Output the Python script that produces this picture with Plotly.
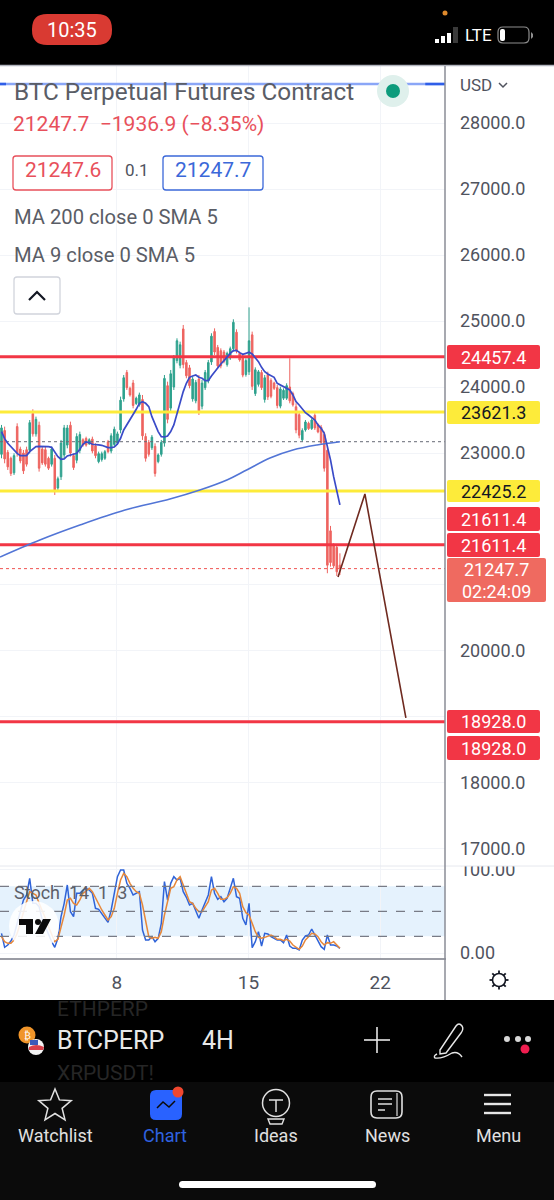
import math
import plotly.graph_objects as go

W, H = 554, 1200
FONT = "Roboto"
UP, DOWN = "#2fa28e", "#ee6460"

# ---------- data ----------
opens = [22980,23340,23010,22920,22700,23400,23060,23000,23050,23040,23600,23290,23420,23060,23050,22920,22830,22920,22470,22640,
         22970,23120,23420,22960,22890,23040,23200,23220,23140,23210,23110,22870,22900,22920,23170,23030,23130,23150,23350,23820,
         24220,23980,24060,23750,23730,23810,23250,23160,23080,23100,22870,22980,23150,24020,23680,24000,24400,24330,24880,24370,
         24290,23820,23790,24120,23710,23990,24090,24380,24840,24600,24550,24530,24340,24440,24580,24830,24510,24450,24190,24230,
         24790,23900,24040,24220,23810,24190,24100,24060,23990,23710,23830,23830,24000,23900,23700,23580,23200,23350,23450,23370,
         23570,23430,23390,23280,23040,21820,21590,21570,21300]
highs = [23425,23400,23046,22945,22995,23450,23096,23046,23096,23500,23662,23551,23475,23096,23096,22945,23096,22970,22642,23198,
         23425,23425,23475,22995,23299,23324,23223,23248,23223,23248,23147,23021,23021,23046,23198,23299,23400,23324,23854,24182,
         24258,24006,24107,23854,23915,23879,23299,23198,23273,23147,22995,23198,24182,24081,24258,24485,24738,24687,24940,24410,
         24334,24157,24107,24182,24107,24258,24410,24814,24889,24637,24586,24561,24536,24612,25026,24874,24536,24485,24435,25207,
         24839,24298,24258,24258,24182,24233,24132,24081,24031,24006,23980,24056,24435,23930,23753,23627,23374,23500,23475,23526,
         23601,23450,23425,23324,23096,21895,21632,21622,21480]
lows = [22920,22844,22743,22652,22667,22945,22844,22682,22794,22995,23248,23248,22718,22819,22794,22743,22794,22364,22440,22591,
        22920,23071,22945,22743,22844,22995,23096,23096,23122,22995,22920,22844,22869,22895,22995,22995,23096,23122,23299,23778,
        23955,23854,23677,23728,23703,23198,22869,22945,23046,22642,22844,22945,23096,23450,23627,23955,24359,24283,24283,24132,
        23980,23778,23753,23576,23662,23955,24056,24334,24485,24283,24283,24359,24309,24410,24536,24510,24384,24147,24157,24182,
        23955,23864,24006,23955,23763,23804,23829,23955,23677,23677,23804,23804,23753,23703,23299,23223,23172,23324,23349,23349,
        23349,23299,23122,22718,21178,21279,21253,21137,21152]
closes = [23380,22910,22790,22690,22960,23000,22880,22730,22830,23460,23290,23510,22770,22850,22830,22770,23060,22420,22610,23150,
          23380,23380,23000,22780,23250,23280,23120,23120,23200,23030,22960,22990,22990,23020,23020,23260,23360,23290,23800,24140,
          23990,23880,23720,23830,23880,23260,22920,22980,23240,22690,22970,23160,24130,23510,24200,24440,24700,24640,24340,24170,
          24020,24120,24070,23630,24060,24220,24370,24770,24530,24320,24320,24390,24510,24580,24980,24550,24410,24180,24400,24700,
          24010,24260,24230,23990,24140,23850,23860,23980,23720,23970,23950,24020,23790,23730,23350,23270,23340,23470,23370,23500,
          23380,23320,23160,22770,21300,21340,21290,21200,21247.7]
ma9 = [23324,23218,23147,23096,23041,22995,22960,22960,22960,23021,23061,23096,23101,23101,23096,23096,23086,23006,22945,22905,
       22910,22955,22965,22980,22995,23056,23132,23167,23157,23132,23122,23122,23117,23096,23081,23081,23091,23137,23223,23349,
       23425,23500,23576,23662,23753,23778,23753,23703,23551,23435,23324,23248,23243,23258,23324,23425,23601,23753,23930,24056,
       24147,24167,24182,24147,24132,24096,24096,24167,24233,24283,24349,24399,24460,24510,24551,24556,24521,24495,24510,24526,
       24500,24450,24384,24298,24233,24197,24167,24147,24056,24031,24006,23980,23955,23879,23778,23728,23662,23611,23576,23541,
       23500,23425,23374,23299,23096,22895,22642,22440,22213]
stoch_k = [23.6,6.8,9.6,14.4,21.6,35.6,51.6,63.6,69.6,89.6,59.6,59.6,55.6,39.6,31.6,21.6,13.6,6.8,17.6,43.6,
           59.6,81.6,49.6,43.6,71.6,71.6,75.6,77.6,75.6,71.6,53.6,52.4,47.6,41.6,36.8,51.6,71.6,91.6,99.6,99.6,
           83.6,77.6,69.6,71.6,73.6,27.6,15.6,15.6,19.6,13.6,17.6,35.6,85.6,63.6,83.6,91.6,87.6,89.6,73.6,66.8,
           57.6,59.6,49.6,41.6,51.6,59.6,69.6,91.6,71.6,64.4,67.6,61.6,65.6,77.6,89.6,67.6,65.6,41.6,33.6,59.6,
           6.4,13.6,25.6,8.4,23.6,22.8,19.6,17.6,15.6,15.6,12.4,21.6,8.4,5.6,5.6,3.6,15.6,20.4,21.6,28.8,
           21.6,15.6,7.6,4.4,21.6,9.6,9.6,8.4,5.6]
stoch_d = [19.6,13.6,11.6,11.6,15.6,23.6,35.6,49.6,61.6,73.6,71.6,69.6,59.6,51.6,41.6,31.6,21.6,13.6,16.4,29.6,
           45.6,63.6,65.6,59.6,57.6,63.6,71.6,74.4,77.6,73.6,65.6,59.6,51.6,45.6,39.6,43.6,53.6,71.6,87.6,95.6,
           91.6,83.6,77.6,73.6,71.6,57.6,37.6,19.6,17.6,18.8,17.6,25.6,45.6,63.6,77.6,79.6,87.6,91.6,81.6,69.6,
           61.6,59.6,53.6,49.6,49.6,55.6,61.6,75.6,77.6,71.6,64.4,64.4,66.4,71.6,79.6,77.6,71.6,55.6,48.4,45.6,
           35.6,25.6,18.8,17.6,18.8,20.4,21.6,19.6,16.4,16.4,14.8,16.4,14.4,9.6,6.8,4.4,8.4,15.6,19.6,23.6,
           22.8,19.6,13.6,9.6,12.4,11.6,13.6,9.6,5.6]
ma200_days = [1.78,3.90,6.03,8.43,10.82,12.41,13.85,14.90,16.14,17.36,18.64,19.86]
ma200 = [21424,21682,21909,22136,22303,22439,22591,22742,22924,23045,23121,23171]
path_days = [19.76,21.19,23.37]
path_prices = [21121,22379,18985]
red_levels = [24457.4,21611.4,18928.0]
yellow_levels = [23621.3,22425.2]
last_price = 21247.7
ma200_last = 23171
top_drawing_level = 28591
price_ticks = [28000,27000,26000,25000,24000,23000,20000,18000,17000]
price_tick_text = ["28000.0","27000.0","26000.0","25000.0","24000.0","23000.0","20000.0","18000.0","17000.0"]
date_ticks = [8,15,22]
date_tick_text = ["8","15","22"]
stoch_ticks = [100,0]
stoch_tick_text = ["100.00","0.00"]
stoch_levels = [80,50,20]

candle_days = [19.86-(len(opens)-1-i)/6 for i in range(len(opens))]
x_range = [1.78,25.45]

fig = go.Figure()

# horizontal levels
for lv in red_levels:
    fig.add_trace(go.Scatter(x=x_range,y=[lv,lv],mode="lines",line=dict(color="#f23645",width=3),xaxis="x",yaxis="y"))
for lv in yellow_levels:
    fig.add_trace(go.Scatter(x=x_range,y=[lv,lv],mode="lines",line=dict(color="#fdeb3a",width=3),xaxis="x",yaxis="y"))
fig.add_trace(go.Scatter(x=x_range,y=[top_drawing_level]*2,mode="lines",line=dict(color="#8aa6f7",width=2.5),xaxis="x",yaxis="y"))
fig.add_trace(go.Scatter(x=[1.78,2.1],y=[top_drawing_level]*2,mode="lines",line=dict(color="#2f5ee8",width=2.5),xaxis="x",yaxis="y"))
fig.add_trace(go.Scatter(x=[24.4,25.45],y=[top_drawing_level]*2,mode="lines",line=dict(color="#2f5ee8",width=2.5),xaxis="x",yaxis="y"))
fig.add_trace(go.Scatter(x=x_range,y=[ma200_last]*2,mode="lines",line=dict(color="#666a75",width=1,dash="dot"),xaxis="x",yaxis="y"))
fig.add_trace(go.Scatter(x=x_range,y=[last_price]*2,mode="lines",line=dict(color="#ef5350",width=1,dash="dot"),xaxis="x",yaxis="y"))

fig.add_trace(go.Candlestick(x=candle_days,open=opens,high=highs,low=lows,close=closes,whiskerwidth=0,
    increasing=dict(line=dict(color=UP,width=1),fillcolor=UP),
    decreasing=dict(line=dict(color=DOWN,width=1),fillcolor=DOWN),xaxis="x",yaxis="y"))
fig.add_trace(go.Scatter(x=ma200_days,y=ma200,mode="lines",line=dict(color="#5275d6",width=1.6,shape="spline"),xaxis="x",yaxis="y"))
fig.add_trace(go.Scatter(x=candle_days,y=ma9,mode="lines",line=dict(color="#3a4bc8",width=1.7),xaxis="x",yaxis="y"))
fig.add_trace(go.Scatter(x=path_days,y=path_prices,mode="lines",line=dict(color="#6f2a20",width=1.6),xaxis="x",yaxis="y"))

# stochastic pane
fig.add_trace(go.Scatter(x=candle_days,y=stoch_k,mode="lines",line=dict(color="#2f63d8",width=1.5),xaxis="x2",yaxis="y2"))
fig.add_trace(go.Scatter(x=candle_days,y=stoch_d,mode="lines",line=dict(color="#e6873a",width=1.5),xaxis="x2",yaxis="y2"))
# invisible trace that makes the overlay pixel grid exist
fig.add_trace(go.Scatter(x=[0,W],y=[0,H],mode="lines",line=dict(color="rgba(0,0,0,0)"),xaxis="x3",yaxis="y3"))

shapes, notes = [], []
def rect(x0,y0,x1,y1,fill=None,line=None,lw=1,layer="above",op=1):
    shapes.append(dict(type="rect",xref="x3",yref="y3",x0=x0,y0=y0,x1=x1,y1=y1,fillcolor=fill or "rgba(0,0,0,0)",
                       line=dict(color=line or "rgba(0,0,0,0)",width=lw if line else 0),layer=layer,opacity=op))
def rrect(x0,y0,x1,y1,r,fill=None,line=None,lw=1,op=1):
    d=(f"M{x0+r},{y0} L{x1-r},{y0} Q{x1},{y0} {x1},{y0+r} L{x1},{y1-r} Q{x1},{y1} {x1-r},{y1} "
       f"L{x0+r},{y1} Q{x0},{y1} {x0},{y1-r} L{x0},{y0+r} Q{x0},{y0} {x0+r},{y0} Z")
    path(d,fill,line,lw,op)
def path(d,fill=None,line=None,lw=1,op=1):
    shapes.append(dict(type="path",xref="x3",yref="y3",path=d,fillcolor=fill or "rgba(0,0,0,0)",
                       line=dict(color=line or "rgba(0,0,0,0)",width=lw if line else 0),layer="above",opacity=op))
def circle(cx,cy,r,fill=None,line=None,lw=1,op=1):
    shapes.append(dict(type="circle",xref="x3",yref="y3",x0=cx-r,x1=cx+r,y0=cy-r,y1=cy+r,fillcolor=fill or "rgba(0,0,0,0)",
                       line=dict(color=line or "rgba(0,0,0,0)",width=lw if line else 0),layer="above",opacity=op))
def seg(x0,y0,x1,y1,color,lw=1):
    shapes.append(dict(type="line",xref="x3",yref="y3",x0=x0,y0=y0,x1=x1,y1=y1,line=dict(color=color,width=lw),layer="above"))
def text(x,y,t,size=16,color="#50535e",anchor="left",fam=FONT):
    notes.append(dict(xref="x3",yref="y3",x=x,y=y,text=t,showarrow=False,xanchor=anchor,yanchor="middle",
                      font=dict(family=fam,size=size,color=color),borderpad=0,borderwidth=0))

# stochastic band and dashed levels live on the stochastic axes
band = dict(type="rect",xref="x2",yref="y2",x0=x_range[0],x1=x_range[1],y0=20,y1=80,fillcolor="#e5f2fd",line=dict(width=0),layer="below")
stoch_lines = [dict(type="line",xref="x2",yref="y2",x0=x_range[0],x1=x_range[1],y0=v,y1=v,
                    line=dict(color="#787b86",width=1.4,dash="dash"),layer="above") for v in stoch_levels]

# chrome: top bar, bottom bar
rect(0,0,W,65,"#000000")
rect(0,1000,W,H,"#000000")
rect(0,1082,W,H,"#0b0b0b")
seg(0,65.5,W,65.5,"#b2b5be",1.5)
rect(446,858,W,866,"#ffffff")
seg(0,866,W,866,"#e6e8ee",1)
seg(0,959,446,959,"#787b86",1.5)
seg(445,66,445,1000,"#8a8d96",1.5)

# status bar
rrect(32,14,112,45,15,"#d93a32")
text(72,29.5,"10:35",20,"#ffffff","center")
circle(445,13,2.5,"#e08a2c")
for bx,by in zip([435,441,447],[39,36,33]):
    rect(bx,by,bx+4,43,"#ffffff")
rect(453,27,458,43,"#3a3a3a")
text(465,35,"LTE",17,"#ffffff")
rrect(498,27,529,43,5,None,"#8e8e8e",1.2)
rrect(500,29,505,41,2,"#ffffff")
path("M531,32 L533,34 L533,37 L531,39 Z","#8e8e8e")

# legend block
circle(393,91,16,"#dff0ec")
circle(393,91,7,"#0d9b7c")
text(14,91,"BTC Perpetual Futures Contract",24.3,"#5a5d66")
text(13,124,"21247.7  −1936.9 (−8.35%)",21,"#e8505b")
rrect(13,156,112,190,3,"#ffffff","#e8505b",1.3)
text(62.5,170,"21247.6",21,"#e8505b","center")
text(137,170,"0.1",17,"#50535e","center")
rrect(163,156,263,190,3,"#ffffff","#3b68d9",1.3)
text(213,170,"21247.7",21,"#3b68d9","center")
text(14,217,"MA 200 close 0 SMA 5",20.2,"#5a5d66")
text(14,255,"MA 9 close 0 SMA 5",20.2,"#5a5d66")
rrect(14,277,60,314,3,"#ffffff","#d1d4dc",1.3)
path("M29,300 L37,292 L45,300",None,"#131722",2.2)

# right column
text(460,85,"USD",17,"#50535e")
path("M499,83 L503,87 L507,83",None,"#50535e",1.5)
def tag(y0,y1,label,fill,color,x1=540,size=18):
    rrect(447,y0,x1,y1,2,fill)
    text((447+x1)/2,(y0+y1)/2,label,size,color,"center")
tag(345,369,"24457.4","#f23645","#ffffff")
tag(401,424,"23621.3","#fdeb3a","#131722")
tag(480,502,"22425.2","#fdeb3a","#131722")
tag(507,531,"21611.4","#f23645","#ffffff")
tag(533,557,"21611.4","#f23645","#ffffff")
rrect(447,558,546,602,2,"#ef6a60")
text(496,569,"21247.7",18,"#ffffff","center")
text(496,591,"02:24:09",18,"#ffffff","center")
tag(710,733,"18928.0","#f23645","#ffffff")
tag(736,760,"18928.0","#f23645","#ffffff")

# stochastic legend and logo
text(14,892,"Stoch  14  1  3",18,"#5c5f69")
circle(34,926,25,"#ffffff",None,1,0.88)
path("M19,919 L33,919 L33,934 L26,934 L26,925 L19,925 Z","#0b0b0b")
circle(38,922,3,"#0b0b0b")
path("M35,934 L43,919 L51,919 L43,934 Z","#0b0b0b")

# gear
circle(499,980,6.5,None,"#131722",1.6)
for k in range(8):
    a=k*math.pi/4
    seg(499+6.5*math.cos(a),980+6.5*math.sin(a),499+9.5*math.cos(a),980+9.5*math.sin(a),"#131722",1.8)

# bottom toolbar
text(57,1009,"ETHPERP",21,"#262626")
text(57,1073,"XRPUSDT!",21,"#262626")
circle(27,1035,8.5,"#f0952a")
text(27,1035,"₿",10,"#ffffff","center","DejaVu Sans")
circle(36,1047,8,"#f4f4f4")
path("M29,1047 Q36,1043 44,1047 L43,1050 L29,1050 Z","#d8404a")
path("M30,1040 L38,1040 L38,1045 L30,1045 Z","#3b5ab8")
text(57,1040,"BTCPERP",25,"#e8e8e8")
text(202,1040,"4H",25,"#e8e8e8")
seg(364,1040,390,1040,"#e8e8e8",1.6)
seg(377,1027,377,1053,"#e8e8e8",1.6)
path("M440,1050 L456,1026 Q459,1022 462,1026 Q464,1029 461,1033 L446,1053 L440,1054 Z",None,"#e8e8e8",1.4)
path("M437,1054 Q433,1056 435,1058 Q442,1059 452,1053 Q458,1051 462,1057",None,"#e8e8e8",1.4)
for dx in [507,518,528]:
    circle(dx,1039,3,"#d8d8d8")
circle(525,1049,4.5,"#f01d4f")

# tab bar
labels = [(55,"Watchlist","#e0e0e0"),(165,"Chart","#2f62e0"),(276,"Ideas","#e0e0e0"),(387,"News","#e0e0e0"),(498,"Menu","#e0e0e0")]
for lx,lt,lc in labels:
    text(lx,1135,lt,18,lc,"center")
pts=[]
for k in range(10):
    r=17 if k%2==0 else 7.5
    a=-math.pi/2+k*math.pi/5
    pts.append(f"{55+r*math.cos(a):.1f},{1106+r*math.sin(a):.1f}")
path("M"+" L".join(pts)+" Z",None,"#e0e0e0",1.5)
rrect(150,1090,182,1120,6,"#2962ff")
path("M157,1108 L163,1102 L169,1107 L175,1101",None,"#0b0b0b",1.5)
circle(178,1092,5.5,"#f0472f")
circle(276,1103,13.5,None,"#e0e0e0",1.5)
path("M269,1100 L283,1100 M276,1100 L276,1112",None,"#e0e0e0",1.5)
path("M268,1119 L284,1119 L282,1124 L270,1124 Z",None,"#e0e0e0",1.4)
rrect(371,1091,402,1118,6,None,"#e0e0e0",1.6)
for ly,lx2 in zip([1099,1104,1110],[392,392,385]):
    seg(378,ly,lx2,ly,"#e0e0e0",1.5)
seg(397,1093,397,1116,"#e0e0e0",1.2)
for ly in [1095,1104,1113]:
    seg(484,ly,511,ly,"#e6e6e6",2.4)
rrect(179,1181,376,1188,3.5,"#ffffff")

axis_font = dict(family=FONT,size=18,color="#50535e")
fig.update_layout(
    width=W,height=H,autosize=False,margin=dict(l=0,r=0,t=0,b=0,autoexpand=False),
    paper_bgcolor="#ffffff",plot_bgcolor="rgba(0,0,0,0)",showlegend=False,
    font=dict(family=FONT),
    xaxis=dict(domain=[0,445/W],range=x_range,anchor="y",tickvals=date_ticks,showticklabels=False,ticks="",
               showgrid=True,gridcolor="#f2f4f8",gridwidth=1,zeroline=False,rangeslider=dict(visible=False)),
    yaxis=dict(domain=[1-866/H,1-66/H],range=[16742,28864],anchor="x",side="right",tickvals=price_ticks,ticktext=price_tick_text,
               tickfont=axis_font,ticks="",ticklabelstandoff=14,showgrid=True,gridcolor="#f2f4f8",zeroline=False,
               minor=dict(tickvals=[22000,21000,19000],showgrid=True,gridcolor="#f2f4f8",ticks="")),
    xaxis2=dict(domain=[0,445/W],range=x_range,anchor="y2",tickvals=date_ticks,ticktext=date_tick_text,
                tickfont=dict(family=FONT,size=19,color="#50535e"),ticks="",ticklabelstandoff=10,
                showgrid=True,gridcolor="#f2f4f8",zeroline=False),
    yaxis2=dict(domain=[1-959/H,1-866/H],range=[-7.2,104.4],anchor="x2",side="right",tickvals=stoch_ticks,ticktext=stoch_tick_text,
                tickfont=axis_font,ticks="",ticklabelstandoff=14,showgrid=True,gridcolor="#f2f4f8",zeroline=False),
    xaxis3=dict(domain=[0,1],range=[0,W],anchor="y3",visible=False,fixedrange=True),
    yaxis3=dict(domain=[0,1],range=[H,0],anchor="x3",visible=False,fixedrange=True),
    shapes=[band]+stoch_lines+shapes,
    annotations=notes,
)
fig.write_html("out.html",config=dict(displayModeBar=False),post_script="document.body.style.margin='0';")
